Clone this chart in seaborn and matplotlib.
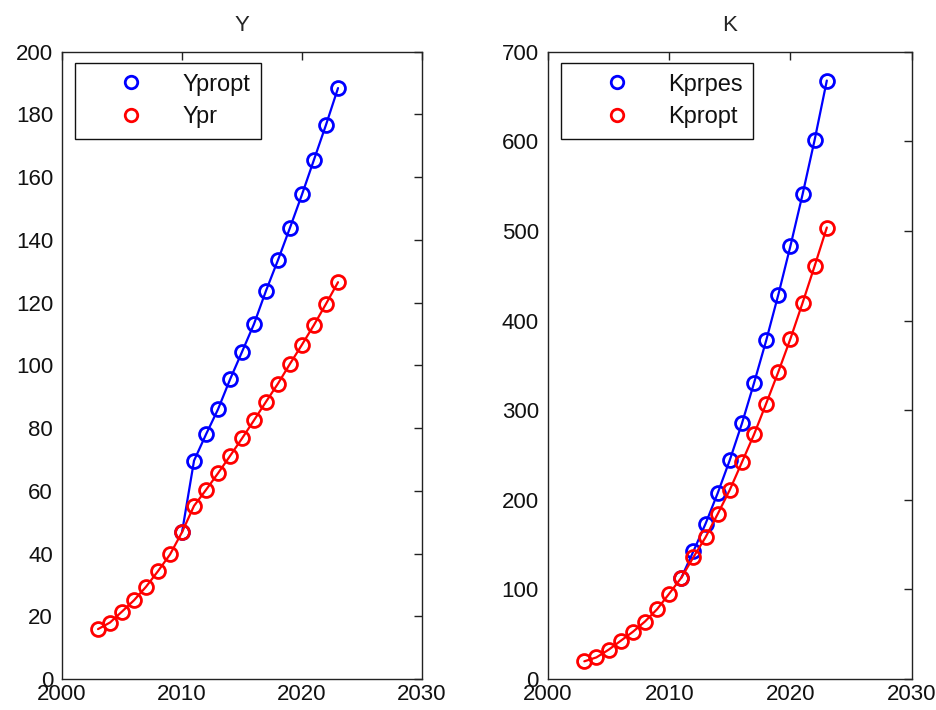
import numpy as np
import pandas as pd
import matplotlib
matplotlib.use("Agg")
import matplotlib.pyplot as plt
from matplotlib.lines import Line2D
import seaborn as sns

# Output series (Y)
years_y_pr = list(range(2003, 2024))
y_pr = [15.9, 18.0, 21.5, 25.1, 29.4, 34.4, 39.7, 46.8, 55.2, 60.3, 65.6,
        71.1, 76.7, 82.5, 88.4, 94.2, 100.5, 106.6, 112.9, 119.6, 126.5]
years_y_propt = list(range(2010, 2024))
y_propt = [46.8, 69.6, 78.0, 86.0, 95.5, 104.3, 113.2, 123.8, 133.6, 143.9,
           154.5, 165.6, 176.7, 188.4]

# Capital series (K)
years_k_propt = list(range(2003, 2024))
k_propt = [19.7, 24.1, 32.6, 42.6, 52.6, 64.1, 77.8, 95.2, 113.0, 136.0, 158.2,
           184.1, 211.1, 241.9, 273.0, 307.4, 342.7, 379.7, 419.7, 461.1, 503.8]
years_k_prpes = list(range(2011, 2024))
k_prpes = [113.0, 142.6, 173.3, 207.4, 244.4, 285.2, 330.4, 377.8, 428.9,
           483.3, 540.8, 601.9, 667.8]

x_ticks = [2000, 2010, 2020, 2030]
y_ticks_left = list(range(0, 201, 20))
y_ticks_right = list(range(0, 701, 100))

BLUE = "#0000ff"
RED = "#ff0000"

sns.set_style("white")
plt.rcParams["font.family"] = ["Liberation Sans", "DejaVu Sans"]
FS = 16

fig = plt.figure(figsize=(9.37, 7.10), dpi=100)
ax1 = fig.add_axes([0.0662, 0.0437, 0.3842, 0.8835])
ax2 = fig.add_axes([0.5848, 0.0437, 0.3882, 0.8835])


def draw_series(ax, x, y, color):
    sns.lineplot(x=x, y=y, ax=ax, color=color, linewidth=1.6, marker="o",
                 markersize=10, markerfacecolor="none", markeredgecolor=color,
                 markeredgewidth=2.0, legend=False)


def style_axes(ax, title, yticks, ylim, labels, colors):
    ax.set_xlim(2000, 2030)
    ax.set_ylim(*ylim)
    ax.set_xticks(x_ticks)
    ax.set_yticks(yticks)
    ax.set_xlabel("")
    ax.set_ylabel("")
    ax.set_title(title, fontsize=FS, pad=15)
    ax.tick_params(axis="both", direction="in", length=6, width=1,
                   labelsize=FS, top=True, right=True, color="#222222",
                   labelcolor="#111111")
    ax.tick_params(axis="y", pad=6.5)
    ax.tick_params(axis="x", pad=3.5)
    for s in ax.spines.values():
        s.set_visible(True)
        s.set_color("#222222")
        s.set_linewidth(1.0)
    handles = [Line2D([], [], linestyle="none", marker="o", markersize=9,
                      markerfacecolor="none", markeredgecolor=c,
                      markeredgewidth=2.0) for c in colors]
    leg = ax.legend(handles, labels, loc="upper left",
                    bbox_to_anchor=(0.035, 0.982), fontsize=17,
                    frameon=True, fancybox=False, framealpha=1,
                    edgecolor="#111111", handlelength=3.9,
                    handletextpad=0.2, borderpad=0.45, labelspacing=0.45,
                    borderaxespad=0)
    leg.get_frame().set_linewidth(1.0)
    for t in leg.get_texts():
        t.set_color("#111111")


draw_series(ax1, years_y_propt, y_propt, BLUE)
draw_series(ax1, years_y_pr, y_pr, RED)
style_axes(ax1, "Y", y_ticks_left, (0, 200), ["Ypropt", "Ypr"], [BLUE, RED])

draw_series(ax2, years_k_prpes, k_prpes, BLUE)
draw_series(ax2, years_k_propt, k_propt, RED)
style_axes(ax2, "K", y_ticks_right, (0, 700), ["Kprpes", "Kpropt"], [BLUE, RED])

fig.savefig("out.png", dpi=100)
